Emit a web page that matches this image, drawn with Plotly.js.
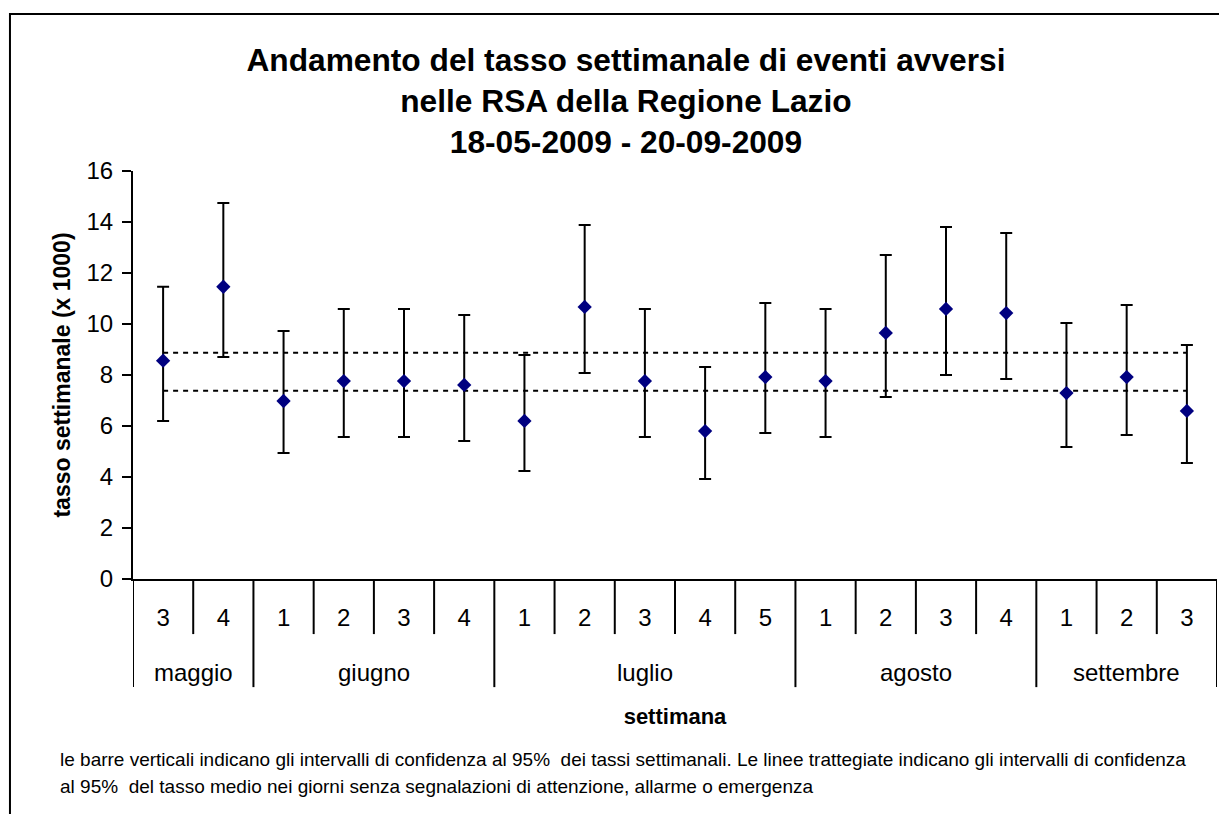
<!DOCTYPE html>
<html>
<head>
<meta charset="utf-8">
<script src="https://cdn.plot.ly/plotly-3.0.1.min.js"></script>
<style>html,body{margin:0;padding:0;background:#fff;}#chart{width:1219px;height:814px;}</style>
</head>
<body>
<div id="chart"></div>
<script>
// ---- data ----
const weeks  = ['3','4','1','2','3','4','1','2','3','4','5','1','2','3','4','1','2','3'];
const months = ['maggio','maggio','giugno','giugno','giugno','giugno','luglio','luglio','luglio','luglio','luglio','agosto','agosto','agosto','agosto','settembre','settembre','settembre'];
const rate    = [8.56, 11.46, 6.98, 7.76, 7.76, 7.61, 6.20, 10.67, 7.76, 5.80, 7.92, 7.76, 9.65, 10.59, 10.43, 7.29, 7.92, 6.59];
const ciUpper = [11.46, 14.75, 9.73, 10.59, 10.59, 10.35, 8.78, 13.88, 10.59, 8.31, 10.82, 10.59, 12.71, 13.80, 13.57, 10.04, 10.75, 9.18];
const ciLower = [6.20, 8.71, 4.94, 5.57, 5.57, 5.41, 4.24, 8.08, 5.57, 3.92, 5.73, 5.57, 7.14, 8.00, 7.84, 5.18, 5.65, 4.55];
const refUpper = 8.87;
const refLower = 7.38;

const titleText = 'Andamento del tasso settimanale di eventi avversi<br>nelle RSA della Regione Lazio<br>18-05-2009 - 20-09-2009';
const yTitle = 'tasso settimanale (x 1000)';
const xTitle = 'settimana';
const footnoteLines = [
  'le barre verticali indicano gli intervalli di confidenza al 95%  dei tassi settimanali. Le linee trattegiate indicano gli intervalli di confidenza',
  'al 95%  del tasso medio nei giorni senza segnalazioni di attenzione, allarme o emergenza'
];

// ---- derived ----
const idx = weeks.map((_, i) => i);
const errPlus = ciUpper.map((u, i) => u - rate[i]);
const errMinus = ciLower.map((l, i) => rate[i] - l);

// month groups
const groups = [];
months.forEach((m, i) => {
  if (!groups.length || groups[groups.length - 1].name !== m) groups.push({name: m, start: i, end: i});
  else groups[groups.length - 1].end = i;
});

const FONT = 'Arial, "Liberation Sans", sans-serif';
const shapes = [];
// week dividers (short)
for (let i = 1; i < weeks.length; i++) {
  if (months[i] === months[i - 1]) {
    shapes.push({type: 'line', xref: 'x', yref: 'paper', x0: i - 0.5, x1: i - 0.5, y0: 0, y1: -0.135,
      line: {color: '#000', width: 2}});
  }
}
// month dividers (long)
const bounds = [groups[0].start - 0.5].concat(groups.map(g => g.end + 0.5));
bounds.forEach(b => shapes.push({type: 'line', xref: 'x', yref: 'paper', x0: b, x1: b, y0: 0, y1: -0.265,
  line: {color: '#000', width: 2}}));
// outer frame
shapes.push({type: 'rect', xref: 'paper', yref: 'paper', x0: -0.1135, x1: 1.02, y0: -0.7, y1: 1.3848,
  line: {color: '#000', width: 2}, fillcolor: 'rgba(0,0,0,0)'});

const annotations = groups.map(g => ({
  xref: 'x', yref: 'paper', x: (g.start + g.end) / 2, y: -0.228, text: g.name, showarrow: false,
  xanchor: 'center', yanchor: 'middle', font: {family: FONT, size: 24, color: '#000'}
}));
const footY = [-0.4436, -0.5098];
footnoteLines.forEach((t, k) => annotations.push({
  xref: 'paper', yref: 'paper', x: -0.0692, y: footY[k], text: t, showarrow: false,
  xanchor: 'left', yanchor: 'middle', align: 'left',
  font: {family: FONT, size: 19, color: '#000'}
}));

const traces = [
  {x: [idx[0], idx[idx.length - 1]], y: [refUpper, refUpper], mode: 'lines', type: 'scatter',
   line: {color: '#000', width: 2, dash: '5px,5px'}, hoverinfo: 'skip'},
  {x: [idx[0], idx[idx.length - 1]], y: [refLower, refLower], mode: 'lines', type: 'scatter',
   line: {color: '#000', width: 2, dash: '5px,5px'}, hoverinfo: 'skip'},
  {x: idx, y: rate, mode: 'markers', type: 'scatter',
   marker: {symbol: 'diamond', size: 11, color: '#000080', line: {width: 0}},
   error_y: {type: 'data', symmetric: false, array: errPlus, arrayminus: errMinus,
     color: '#000', thickness: 2, width: 6}}
];

const layout = {
  width: 1219, height: 814,
  margin: {l: 133, r: 2, t: 171, b: 235, pad: 0},
  paper_bgcolor: '#fff', plot_bgcolor: '#fff',
  showlegend: false, hovermode: false,
  font: {family: FONT, color: '#000'},
  title: {text: titleText, font: {family: FONT, size: 31.7, weight: 'bold', color: '#000'},
    xref: 'container', yref: 'container', x: 0.5135, xanchor: 'center', y: 0.9128, yanchor: 'middle'},
  xaxis: {range: [-0.5, 17.5], tickvals: idx, ticktext: weeks, ticks: '', showgrid: false, zeroline: false,
    showline: true, linecolor: '#000', linewidth: 2, ticklabelstandoff: 16,
    tickfont: {family: FONT, size: 24, color: '#000'},
    title: {text: xTitle, font: {family: FONT, size: 22, weight: 'bold', color: '#000'}, standoff: 79}},
  yaxis: {range: [0, 16], dtick: 2, ticks: 'outside', ticklen: 9, tickwidth: 2, tickcolor: '#000',
    showgrid: false, zeroline: false, showline: true, linecolor: '#000', linewidth: 2,
    ticklabelstandoff: 4, tickfont: {family: FONT, size: 24, color: '#000'},
    title: {text: yTitle, font: {family: FONT, size: 23, weight: 'bold', color: '#000'}, standoff: 9}},
  shapes: shapes,
  annotations: annotations
};

Plotly.newPlot('chart', traces, layout, {displayModeBar: false, staticPlot: true});
</script>
</body>
</html>
